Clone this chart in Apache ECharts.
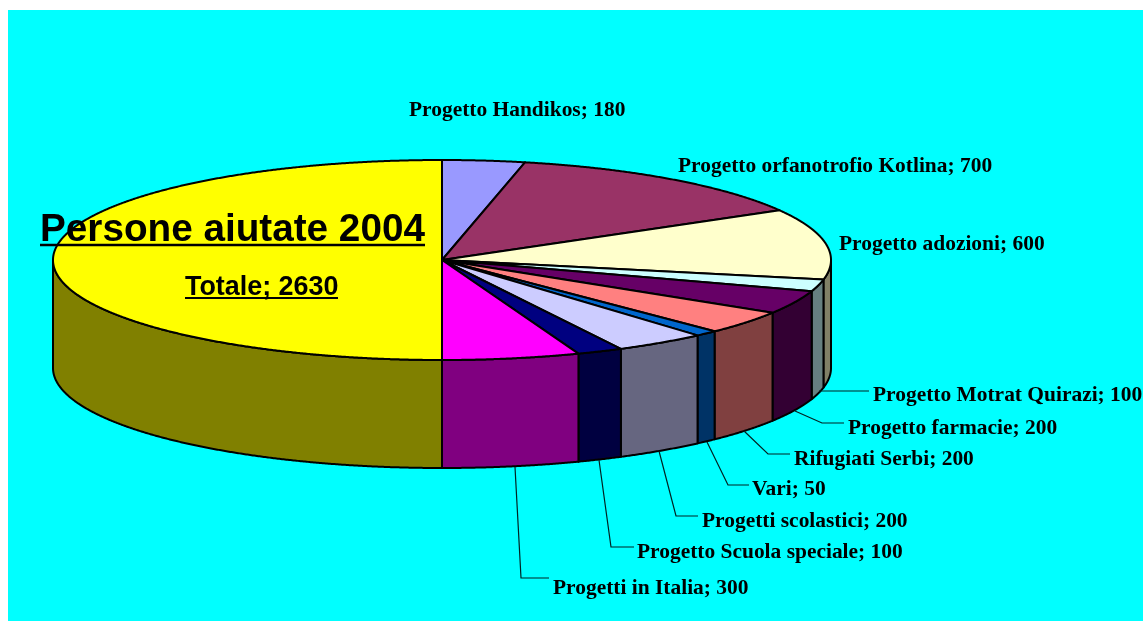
<!DOCTYPE html>
<html><head><meta charset="utf-8">
<style>html,body{margin:0;padding:0;background:#fff}#c{width:1143px;height:621px}</style>
<script src="https://cdn.jsdelivr.net/npm/echarts@6/dist/echarts.min.js"></script>
</head><body><div id="c"></div>
<script>
const categories = ['Progetto Handikos','Progetto orfanotrofio Kotlina','Progetto adozioni','Progetto Motrat Quirazi','Progetto farmacie','Rifugiati Serbi','Vari','Progetti scolastici','Progetto Scuola speciale','Progetti in Italia','Totale'];
const values = [180,700,600,100,200,200,50,200,100,300,2630];
const titleText = 'Persone aiutate 2004';

// styling and label layout, kept apart from the data
const topColors = ['#9999FF','#993366','#FFFFCC','#CCFFFF','#660066','#FF8080','#0066CC','#CCCCFF','#000080','#FF00FF','#FFFF00'];
const wallColors = ['#4D4D80','#4D1A33','#808066','#668080','#330033','#804040','#003366','#666680','#000040','#800080','#808000'];
const labelAnchors = [[409,110.5],[678,166.5],[839,244.5],[873,395.5],[848,428.5],[794,459.5],[752,489.5],[702,521.5],[637,552.5],[553,588.5],[185,288]];
const leaders = [null,null,null,
  [[819,391],[869,391]],
  [[795,411],[822,423],[844,423]],
  [[744,431],[768,454],[790,454]],
  [[707,442],[728,485],[749,485]],
  [[659,451],[676,516],[698,516]],
  [[599,460],[611,547],[634,547]],
  [[515,467],[521,578],[549,578]],
  null];
const DEPTH = 1.08; // wall height in axis units

const total = values.reduce((a,b)=>a+b,0);
const starts = []; values.reduce((acc,v,i)=>{starts[i]=acc; return acc+v;},0);

function arc(from,to,drop,api){
  const pts=[]; const n=Math.max(2,Math.ceil((to-from)/0.004));
  for(let k=0;k<=n;k++){
    const t=from+(to-from)*k/n;
    pts.push(api.coord([Math.sin(t),Math.cos(t)-drop]));
  }
  return pts;
}
function renderItem(params,api){
  const i=params.dataIndex, v=api.value(1);
  const a0=starts[i]/total*2*Math.PI, a1=(starts[i]+v)/total*2*Math.PI;
  const children=[];
  // visible wall: the front half of the rim
  const w0=Math.max(a0,Math.PI/2), w1=Math.min(a1,Math.PI*1.5);
  if(w1>w0){
    const pts=arc(w0,w1,0,api).concat(arc(w0,w1,DEPTH,api).reverse());
    children.push({type:'polygon',shape:{points:pts},style:{fill:wallColors[i],stroke:'#000',lineWidth:2,lineJoin:'round'}});
  }
  const top=[api.coord([0,0])].concat(arc(a0,a1,0,api));
  children.push({type:'polygon',z2:5,shape:{points:top},style:{fill:topColors[i],stroke:'#000',lineWidth:2,lineJoin:'round'}});
  if(leaders[i]) children.push({type:'polyline',z2:3,shape:{points:leaders[i]},style:{fill:null,stroke:'#002222',lineWidth:1.2}});
  const isTotal=i===values.length-1;
  const txt=categories[i]+'; '+v;
  children.push({type:'text',z2:10,style:{
    text:txt,x:labelAnchors[i][0],y:labelAnchors[i][1],textAlign:'left',textVerticalAlign:'middle',fill:'#000',
    fontFamily:isTotal?'"Liberation Sans",Arial,sans-serif':'"Liberation Serif","Times New Roman",serif',
    fontWeight:'bold',fontSize:isTotal?26.9:21.45}});
  if(isTotal) children.push({type:'line',z2:10,shape:{x1:185,y1:298,x2:338,y2:298},style:{stroke:'#000',lineWidth:2}});
  return {type:'group',children};
}
const chart=echarts.init(document.getElementById('c'),null,{renderer:'canvas'});
chart.setOption({
  animation:false,
  backgroundColor:'#fff',
  graphic:[
    {type:'rect',z:-10,silent:true,shape:{x:8,y:10,width:1135,height:611},style:{fill:'#00FFFF'}},
    {type:'line',z:20,silent:true,shape:{x1:40,y1:245,x2:425,y2:245},style:{stroke:'#000',lineWidth:2.5}}
  ],
  title:{text:titleText,left:40,top:211,z:20,padding:0,textStyle:{fontFamily:'"Liberation Sans",Arial,sans-serif',fontWeight:'bold',fontSize:38.7,color:'#000'}},
  grid:{left:53,top:160,width:778,height:200},
  xAxis:{type:'value',min:-1,max:1,show:false},
  yAxis:{type:'value',min:-1,max:1,show:false},
  series:[{type:'custom',coordinateSystem:'cartesian2d',renderItem,clip:false,encode:{x:0,y:1},
    data:values.map((v,i)=>({name:categories[i],value:[i,v]}))}]
});
</script></body></html>
